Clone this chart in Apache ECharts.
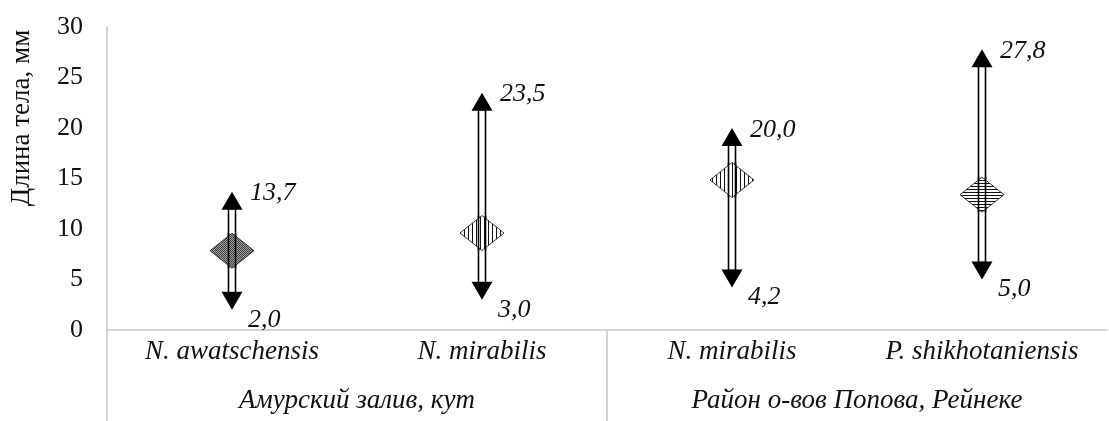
<!DOCTYPE html>
<html>
<head>
<meta charset="utf-8">
<script src="https://cdn.jsdelivr.net/npm/echarts@6/dist/echarts.min.js"></script>
<style>
html,body{margin:0;padding:0;background:#fff;}
#chart{width:1109px;height:421px;}
</style>
</head>
<body>
<div id="chart"></div>
<script>
// ---- data ----
var categories = ['N. awatschensis', 'N. mirabilis', 'N. mirabilis', 'P. shikhotaniensis'];
var groups = ['Амурский залив, кут', 'Район о-вов Попова, Рейнеке'];
var groupBoundaries = [0, 2];
var minValues = [2.0, 3.0, 4.2, 5.0];
var maxValues = [13.7, 23.5, 20.0, 27.8];
var meanValues = [7.85, 9.6, 14.85, 13.4];
var patterns = ['dots', 'vstripe', 'vstripe', 'hstripe'];
var yAxisName = 'Длина тела, мм';

var FONT = "'Liberation Serif', 'Times New Roman', serif";

function makePattern(kind) {
  var c = document.createElement('canvas');
  var ctx;
  if (kind === 'dots') {
    c.width = 2; c.height = 2;
    ctx = c.getContext('2d');
    ctx.fillStyle = '#a0a0a0'; ctx.fillRect(0, 0, 2, 2);
    ctx.fillStyle = '#404040'; ctx.fillRect(0, 0, 1, 1); ctx.fillRect(1, 1, 1, 1);
  } else if (kind === 'vstripe') {
    c.width = 4; c.height = 4;
    ctx = c.getContext('2d');
    ctx.fillStyle = '#ffffff'; ctx.fillRect(0, 0, 4, 4);
    ctx.fillStyle = '#111111'; ctx.fillRect(0, 0, 1, 4);
  } else {
    c.width = 4; c.height = 3;
    ctx = c.getContext('2d');
    ctx.fillStyle = '#ffffff'; ctx.fillRect(0, 0, 4, 3);
    ctx.fillStyle = '#111111'; ctx.fillRect(0, 0, 4, 1);
  }
  return { image: c, repeat: 'repeat' };
}

var seriesData = categories.map(function (c, i) {
  return [i, minValues[i], maxValues[i], meanValues[i]];
});

function fmt(v) { return v.toFixed(1).replace('.', ','); }

function renderItem(params, api) {
  var i = api.value(0);
  var top = api.coord([i, api.value(2)]);
  var bot = api.coord([i, api.value(1)]);
  var mid = api.coord([i, api.value(3)]);
  var x = top[0];
  var headH = 18, headW = 10.5, shaftHalf = 3.5;
  var dW = 22, dH = 17.5;
  var children = [];
  children.push({
    type: 'rect',
    shape: { x: x - shaftHalf, y: top[1] + headH - 1, width: shaftHalf * 2, height: (bot[1] - headH + 1) - (top[1] + headH - 1) },
    style: { fill: '#fff', stroke: '#000', lineWidth: 1.6 }
  });
  children.push({
    type: 'polygon',
    shape: { points: [[x, top[1]], [x - headW, top[1] + headH], [x + headW, top[1] + headH]] },
    style: { fill: '#000' }
  });
  children.push({
    type: 'polygon',
    shape: { points: [[x, bot[1]], [x - headW, bot[1] - headH], [x + headW, bot[1] - headH]] },
    style: { fill: '#000' }
  });
  children.push({
    type: 'polygon',
    shape: { points: [[x, mid[1] - dH], [x + dW, mid[1]], [x, mid[1] + dH], [x - dW, mid[1]]] },
    style: { fill: makePattern(patterns[i]), stroke: '#222', lineWidth: 0.9 }
  });
  children.push({
    type: 'line',
    shape: { x1: x - shaftHalf, y1: mid[1] - dH, x2: x - shaftHalf, y2: mid[1] + dH },
    style: { stroke: '#000', lineWidth: 1.6 }
  });
  children.push({
    type: 'line',
    shape: { x1: x + shaftHalf, y1: mid[1] - dH, x2: x + shaftHalf, y2: mid[1] + dH },
    style: { stroke: '#000', lineWidth: 1.6 }
  });
  children.push({
    type: 'text',
    x: x + 18, y: top[1] + 2,
    style: { text: fmt(api.value(2)), font: 'italic 26px ' + FONT, fill: '#111', align: 'left', verticalAlign: 'middle' }
  });
  children.push({
    type: 'text',
    x: x + 16, y: bot[1] + 10,
    style: { text: fmt(api.value(1)), font: 'italic 26px ' + FONT, fill: '#111', align: 'left', verticalAlign: 'middle' }
  });
  return { type: 'group', children: children };
}

var chart = echarts.init(document.getElementById('chart'), null, { renderer: 'canvas' });
chart.setOption({
  animation: false,
  backgroundColor: '#fff',
  grid: { left: 107, right: 2, top: 27, bottom: 91, containLabel: false },
  xAxis: [
    {
      type: 'category',
      data: categories,
      position: 'bottom',
      axisLine: { show: true, lineStyle: { color: '#c6c6c6', width: 1.5 } },
      axisTick: { show: false },
      axisLabel: { fontFamily: FONT, fontStyle: 'italic', fontSize: 27, color: '#111', margin: 8, interval: 0 }
    },
    {
      type: 'category',
      data: groups,
      position: 'bottom',
      axisLine: { show: false },
      axisTick: { show: false },
      axisLabel: { fontFamily: FONT, fontStyle: 'italic', fontSize: 27, color: '#111', margin: 57, interval: 0 }
    },
    {
      type: 'value',
      min: 0, max: categories.length,
      position: 'bottom',
      axisLine: { show: false },
      splitLine: { show: false },
      axisLabel: { show: false },
      axisTick: { show: true, length: 95, customValues: groupBoundaries, lineStyle: { color: '#c6c6c6', width: 1.5 } }
    }
  ],
  yAxis: {
    type: 'value',
    min: 0, max: 30, interval: 5,
    axisLine: { show: true, lineStyle: { color: '#c6c6c6', width: 1.5 } },
    axisTick: { show: false },
    splitLine: { show: false },
    axisLabel: { fontFamily: FONT, fontSize: 26, color: '#111', margin: 24 }
  },
  graphic: [{
    type: 'text',
    x: 22, y: 118,
    rotation: Math.PI / 2,
    style: { text: yAxisName, font: '27px ' + FONT, fill: '#111', align: 'center', verticalAlign: 'middle' }
  }],
  series: [{
    type: 'custom',
    xAxisIndex: 0,
    yAxisIndex: 0,
    renderItem: renderItem,
    data: seriesData,
    clip: false
  }]
});
</script>
</body>
</html>
